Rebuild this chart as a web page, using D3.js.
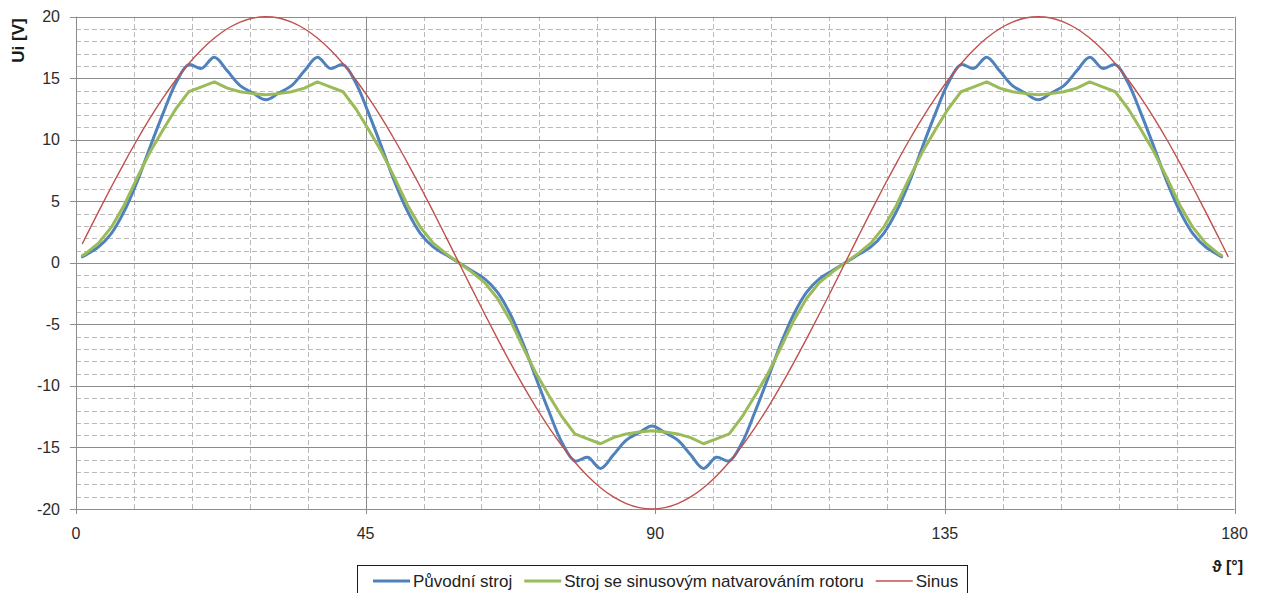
<!DOCTYPE html>
<html>
<head>
<meta charset="utf-8">
<script src="https://cdn.jsdelivr.net/npm/d3@7"></script>
<style>
  html, body { margin: 0; padding: 0; background: #ffffff; }
  svg { display: block; font-family: "Liberation Sans", Arial, sans-serif; }
</style>
</head>
<body>
<svg id="chart" width="1261" height="593"></svg>
<script>
// ---- data ----
const thetas = [1,
  1.5,3.5,5.5,7.5,9.5,11.5,13.5,15.5,17.5,19.5,
  21.5,23.5,25.5,27.5,29.5,31.5,33.5,35.5,37.5,39.5,
  41.5,43.5,45.5,47.5,49.5,51.5,53.5,55.5,57.5,59.5,
  61.5,63.5,65.5,67.5,69.5,71.5,73.5,75.5,77.5,79.5,
  81.5,83.5,85.5,87.5,89.5,91.5,93.5,95.5,97.5,99.5,
  101.5,103.5,105.5,107.5,109.5,111.5,113.5,115.5,117.5,119.5,
  121.5,123.5,125.5,127.5,129.5,131.5,133.5,135.5,137.5,139.5,
  141.5,143.5,145.5,147.5,149.5,151.5,153.5,155.5,157.5,159.5,
  161.5,163.5,165.5,167.5,169.5,171.5,173.5,175.5,177.5,
  178, 179];

const puvodni = [0.5,
  0.65,1.3,2.4,4.2,6.6,9.4,12.1,14.6,16.1,15.8,
  16.7,15.6,14.4,13.8,13.25,13.8,14.4,15.6,16.7,15.8,
  16.1,14.6,12.1,9.4,6.6,4.2,2.4,1.3,0.65,0,
  -0.65,-1.3,-2.4,-4.2,-6.6,-9.4,-12.1,-14.6,-16.1,-15.8,
  -16.7,-15.6,-14.4,-13.8,-13.25,-13.8,-14.4,-15.6,-16.7,-15.8,
  -16.1,-14.6,-12.1,-9.4,-6.6,-4.2,-2.4,-1.3,-0.65,0,
  0.65,1.3,2.4,4.2,6.6,9.4,12.1,14.6,16.1,15.8,
  16.7,15.6,14.4,13.8,13.25,13.8,14.4,15.6,16.7,15.8,
  16.1,14.6,12.1,9.4,6.6,4.2,2.4,1.3,0.65,
  0.5, null];

const sinusovy = [0.6,
  0.75,1.6,2.9,4.7,6.9,9.0,10.8,12.5,13.9,14.3,
  14.7,14.2,13.9,13.75,13.65,13.75,13.9,14.2,14.7,14.3,
  13.9,12.5,10.8,9.0,6.9,4.7,2.9,1.6,0.75,0,
  -0.75,-1.6,-2.9,-4.7,-6.9,-9.0,-10.8,-12.5,-13.9,-14.3,
  -14.7,-14.2,-13.9,-13.75,-13.65,-13.75,-13.9,-14.2,-14.7,-14.3,
  -13.9,-12.5,-10.8,-9.0,-6.9,-4.7,-2.9,-1.6,-0.75,0,
  0.75,1.6,2.9,4.7,6.9,9.0,10.8,12.5,13.9,14.3,
  14.7,14.2,13.9,13.75,13.65,13.75,13.9,14.2,14.7,14.3,
  13.9,12.5,10.8,9.0,6.9,4.7,2.9,1.6,0.75,
  0.6, null];

const sinus = [1.57,
  2.09,4.16,6.18,8.13,10.0,11.76,13.38,14.86,16.18,17.32,
  18.27,19.02,19.56,19.89,20,19.89,19.56,19.02,18.27,17.32,
  16.18,14.86,13.38,11.76,10.0,8.13,6.18,4.16,2.09,0,
  -2.09,-4.16,-6.18,-8.13,-10.0,-11.76,-13.38,-14.86,-16.18,-17.32,
  -18.27,-19.02,-19.56,-19.89,-20,-19.89,-19.56,-19.02,-18.27,-17.32,
  -16.18,-14.86,-13.38,-11.76,-10.0,-8.13,-6.18,-4.16,-2.09,0,
  2.09,4.16,6.18,8.13,10.0,11.76,13.38,14.86,16.18,17.32,
  18.27,19.02,19.56,19.89,20,19.89,19.56,19.02,18.27,17.32,
  16.18,14.86,13.38,11.76,10.0,8.13,6.18,4.16,2.09,
  1.57, 0.52];

const seriesNames = ["Původní stroj", "Stroj se sinusovým natvarováním rotoru", "Sinus"];
const seriesColors = ["#4f81bd", "#9bbb59", "#c0504d"];
const xTicks = [0, 45, 90, 135, 180];
const xMinorTicks = [9,18,27,36,54,63,72,81,99,108,117,126,144,153,162,171];
const yTicks = [-20, -15, -10, -5, 0, 5, 10, 15, 20];
const yMinorTicks = d3.range(-20, 21).filter(v => v % 5 !== 0);
const yTitle = "Ui [V]";
const xTitle = "ϑ [°]";

// ---- layout ----
const svg = d3.select("#chart");
const x = d3.scaleLinear().domain([0, 180]).range([76, 1234.5]);
const y = d3.scaleLinear().domain([-20, 20]).range([509, 16.7]);

const grid = svg.append("g");
// minor horizontal dashed
grid.selectAll("line.hmin").data(yMinorTicks).enter().append("line")
  .attr("x1", x(0)).attr("x2", x(180))
  .attr("y1", d => Math.round(y(d)) + 0.5).attr("y2", d => Math.round(y(d)) + 0.5)
  .attr("stroke", "#b9b9b9").attr("stroke-width", 1).attr("stroke-dasharray", "5,3");
// minor vertical dashed
grid.selectAll("line.vmin").data(xMinorTicks).enter().append("line")
  .attr("y1", y(-20)).attr("y2", y(20))
  .attr("x1", d => Math.round(x(d)) + 0.5).attr("x2", d => Math.round(x(d)) + 0.5)
  .attr("stroke", "#b9b9b9").attr("stroke-width", 1).attr("stroke-dasharray", "5,3");
// major horizontal
grid.selectAll("line.hmaj").data(yTicks).enter().append("line")
  .attr("x1", x(0) - 6).attr("x2", x(180))
  .attr("y1", d => Math.round(y(d)) + 0.5).attr("y2", d => Math.round(y(d)) + 0.5)
  .attr("stroke", "#8c8c8c").attr("stroke-width", 1);
// major vertical
grid.selectAll("line.vmaj").data(xTicks).enter().append("line")
  .attr("y1", y(20)).attr("y2", y(-20) + 5)
  .attr("x1", d => Math.round(x(d)) + 0.5).attr("x2", d => Math.round(x(d)) + 0.5)
  .attr("stroke", "#8c8c8c").attr("stroke-width", 1);

// tick labels
svg.append("g").selectAll("text").data(yTicks).enter().append("text")
  .attr("x", 60).attr("y", d => y(d) + 5.5)
  .attr("text-anchor", "end").attr("font-size", 16).attr("fill", "#2b2b2b")
  .text(d => d);
svg.append("g").selectAll("text").data(xTicks).enter().append("text")
  .attr("x", d => x(d)).attr("y", 539)
  .attr("text-anchor", "middle").attr("font-size", 16).attr("fill", "#2b2b2b")
  .text(d => d);

// axis titles
svg.append("text")
  .attr("transform", "translate(23.5,40.5) rotate(-90)")
  .attr("text-anchor", "middle").attr("font-size", 17).attr("font-weight", "bold").attr("fill", "#1a1a1a")
  .text(yTitle);
svg.append("text")
  .attr("x", 1243).attr("y", 572)
  .attr("text-anchor", "end").attr("font-size", 16).attr("font-weight", "bold").attr("fill", "#1a1a1a")
  .text(xTitle);

// series
const seriesData = [puvodni, sinusovy, sinus];
const widths = [3, 3, 1.4];
const curves = [d3.curveCatmullRom.alpha(0.5), d3.curveLinear, d3.curveCatmullRom.alpha(0.5)];
seriesData.forEach((vals, i) => {
  const pts = thetas.map((t, j) => [t, vals[j]]).filter(p => p[1] !== null);
  const line = d3.line().x(p => x(p[0])).y(p => y(p[1])).curve(curves[i]);
  svg.append("path").datum(pts)
    .attr("d", line).attr("fill", "none")
    .attr("stroke", seriesColors[i]).attr("stroke-width", widths[i])
    .attr("stroke-linejoin", "round").attr("stroke-linecap", "round");
});

// legend
const lg = svg.append("g");
lg.append("rect").attr("x", 357.5).attr("y", 565.5).attr("width", 610).attr("height", 40)
  .attr("fill", "#fff").attr("stroke", "#1a1a1a").attr("stroke-width", 1);
let cx = 373;
seriesNames.forEach((name, i) => {
  lg.append("line").attr("x1", cx).attr("x2", cx + 37).attr("y1", 581).attr("y2", 581)
    .attr("stroke", seriesColors[i]).attr("stroke-width", widths[i]);
  const t = lg.append("text").attr("x", cx + 40).attr("y", 586.5)
    .attr("font-size", 17).attr("fill", "#222").text(name);
  cx = cx + 40 + t.node().getComputedTextLength() + 12;
});
</script>
</body>
</html>
